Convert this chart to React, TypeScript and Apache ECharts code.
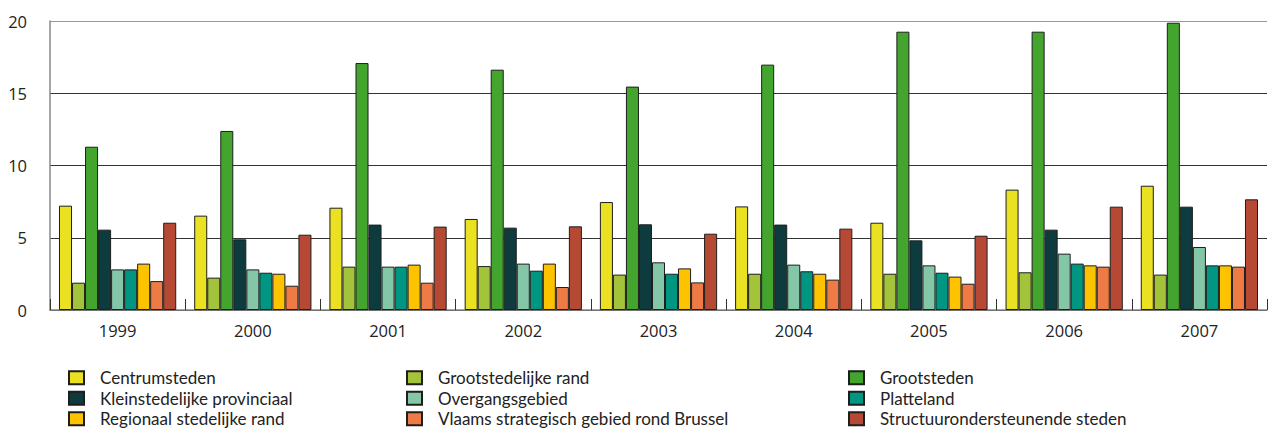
import React, { useEffect, useRef } from "react";
import * as echarts from "echarts";

const years = ["1999", "2000", "2001", "2002", "2003", "2004", "2005", "2006", "2007"];

const seriesNames = [
  "Centrumsteden",
  "Grootstedelijke rand",
  "Grootsteden",
  "Kleinstedelijke provinciaal",
  "Overgangsgebied",
  "Platteland",
  "Regionaal stedelijke rand",
  "Vlaams strategisch gebied rond Brussel",
  "Structuurondersteunende steden",
];

const seriesColors = [
  "#EAE122",
  "#A3C43A",
  "#43A52E",
  "#0E3B3E",
  "#84C6A8",
  "#009681",
  "#FDC300",
  "#EE7B45",
  "#B54934",
];

const centrumsteden = [7.22, 6.53, 7.08, 6.3, 7.47, 7.17, 6.04, 8.33, 8.6];
const grootstedelijkeRand = [1.89, 2.24, 3.0, 3.04, 2.45, 2.51, 2.51, 2.61, 2.45];
const grootsteden = [11.3, 12.39, 17.09, 16.63, 15.46, 16.98, 19.26, 19.26, 19.88];
const kleinstedelijkeProvinciaal = [5.56, 4.89, 5.91, 5.7, 5.93, 5.91, 4.82, 5.56, 7.15];
const overgangsgebied = [2.81, 2.81, 3.0, 3.21, 3.3, 3.14, 3.09, 3.9, 4.36];
const platteland = [2.81, 2.58, 3.0, 2.72, 2.51, 2.68, 2.58, 3.21, 3.09];
const regionaalStedelijkeRand = [3.21, 2.51, 3.14, 3.21, 2.88, 2.51, 2.31, 3.09, 3.09];
const vlaamsStrategisch = [2.0, 1.68, 1.89, 1.59, 1.91, 2.1, 1.82, 3.0, 3.0];
const structuurondersteunend = [6.04, 5.21, 5.77, 5.79, 5.28, 5.63, 5.14, 7.15, 7.66];

const seriesValues = [
  centrumsteden,
  grootstedelijkeRand,
  grootsteden,
  kleinstedelijkeProvinciaal,
  overgangsgebied,
  platteland,
  regionaalStedelijkeRand,
  vlaamsStrategisch,
  structuurondersteunend,
];

const legendColumns = [
  [seriesNames[0], seriesNames[3], seriesNames[6]],
  [seriesNames[1], seriesNames[4], seriesNames[7]],
  [seriesNames[2], seriesNames[5], seriesNames[8]],
];

const FONT = "'Open Sans', 'Noto Sans', sans-serif";
const LEGEND_FONT = "Lato, 'Open Sans', sans-serif";

export default function App() {
  const ref = useRef<HTMLDivElement>(null);

  useEffect(() => {
    if (!ref.current) return;
    const chart = echarts.init(ref.current, undefined, { renderer: "svg" });
    const legendLefts = [68, 406, 848];
    chart.setOption({
      animation: false,
      backgroundColor: "#ffffff",
      grid: { left: 50, right: 4, top: 21, bottom: 120, containLabel: false },
      legend: legendColumns.map((col, i) => ({
        data: col,
        orient: "vertical",
        left: legendLefts[i],
        top: 367.5,
        width: 440,
        height: 100,
        icon: "rect",
        itemWidth: 15,
        itemHeight: 13,
        itemGap: 0,
        selectedMode: false,
        textStyle: {
          fontFamily: LEGEND_FONT,
          fontSize: 17,
          color: "#222",
          padding: [0, 0, 0, 11],
          lineHeight: 20.5,
        },
        padding: 0,
      })),
      xAxis: {
        type: "category",
        data: years,
        axisLine: { show: true, lineStyle: { color: "#888", width: 1.5 } },
        axisTick: {
          show: true,
          inside: true,
          length: 11,
          alignWithLabel: false,
          lineStyle: { color: "#333" },
        },
        axisLabel: {
          fontFamily: FONT,
          fontSize: 16.5,
          color: "#222",
          margin: 12,
        },
      },
      yAxis: {
        type: "value",
        min: 0,
        max: 20,
        interval: 5,
        axisLine: { show: true, lineStyle: { color: "#888", width: 1.5 } },
        axisTick: { show: false },
        axisLabel: {
          fontFamily: FONT,
          fontSize: 16.5,
          color: "#222",
          margin: 23,
        },
        splitLine: {
          show: true,
          lineStyle: { color: ["#333", "#333", "#333", "#333", "#999"], width: 1 },
        },
      },
      series: seriesNames.map((name, i) => ({
        name,
        type: "bar",
        data: seriesValues[i],
        barGap: "0%",
        barCategoryGap: "13.3%",
        itemStyle: {
          color: seriesColors[i],
          borderColor: "#1e1e1e",
          borderWidth: 1,
        },
      })),
    });
    return () => chart.dispose();
  }, []);

  return (
    <div
      ref={ref}
      style={{ position: "fixed", left: 0, top: 0, width: 1271, height: 430 }}
    />
  );
}
